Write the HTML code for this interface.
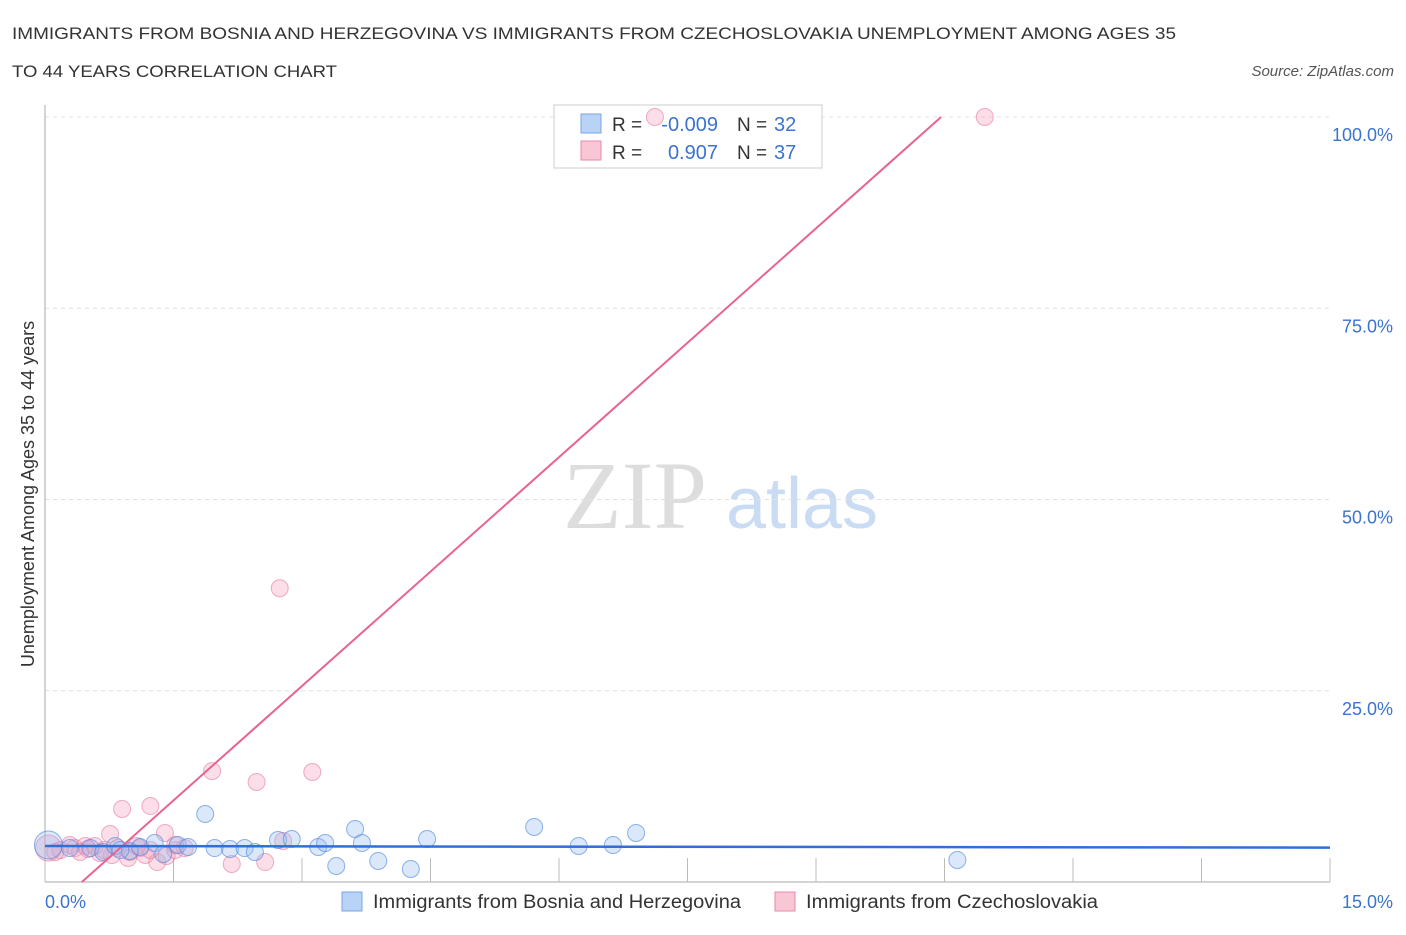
<!DOCTYPE html>
<html><head><meta charset="utf-8"><style>
body{margin:0;background:#fff;}
</style></head><body>
<svg id="c" width="1406" height="930" font-family="Liberation Sans, sans-serif">
<text x="12" y="39" font-size="17" fill="#333" textLength="1164" lengthAdjust="spacingAndGlyphs">IMMIGRANTS FROM BOSNIA AND HERZEGOVINA VS IMMIGRANTS FROM CZECHOSLOVAKIA UNEMPLOYMENT AMONG AGES 35</text>
<text x="12" y="77" font-size="17" fill="#333" textLength="325" lengthAdjust="spacingAndGlyphs">TO 44 YEARS CORRELATION CHART</text>
<text x="1394" y="76" font-size="15" fill="#555" font-style="italic" text-anchor="end">Source: ZipAtlas.com</text>
<text x="635" y="528" font-size="96" fill="#ddd" style="font-family:'Liberation Serif',serif" text-anchor="middle">ZIP</text>
<text x="802" y="528" font-size="72" fill="#c9dcf3" text-anchor="middle">atlas</text>
<text transform="translate(34,494) rotate(-90)" font-size="18" fill="#333" text-anchor="middle">Unemployment Among Ages 35 to 44 years</text>
<g id="grid"></g>
<g>
<rect x="554" y="105" width="268" height="63" fill="#fff" stroke="#ccc"/>
<rect x="581" y="114" width="20" height="19" fill="#b8d3f5" stroke="#7aa6e6"/>
<rect x="581" y="141" width="20" height="19" fill="#f9c6d6" stroke="#e88aa8"/>
<text x="612" y="131" font-size="19" fill="#333">R = </text><text x="718" y="131" font-size="20" fill="#3a73d0" text-anchor="end">-0.009</text>
<text x="737" y="131" font-size="19" fill="#333">N = </text><text x="774" y="131" font-size="20" fill="#3a73d0">32</text>
<text x="612" y="159" font-size="19" fill="#333">R = </text><text x="718" y="159" font-size="20" fill="#3a73d0" text-anchor="end">0.907</text>
<text x="737" y="159" font-size="19" fill="#333">N = </text><text x="774" y="159" font-size="20" fill="#3a73d0">37</text>
</g>
<g id="marks"></g>
<g>
<rect x="342" y="892" width="20" height="19" fill="#b8d3f5" stroke="#7aa6e6"/>
<text x="373" y="908" font-size="19" fill="#333" textLength="368" lengthAdjust="spacingAndGlyphs">Immigrants from Bosnia and Herzegovina</text>
<rect x="775" y="892" width="20" height="19" fill="#f9c6d6" stroke="#e88aa8"/>
<text x="806" y="908" font-size="19" fill="#333" textLength="292" lengthAdjust="spacingAndGlyphs">Immigrants from Czechoslovakia</text>
</g>
</svg>
<script>
const xTicks=[0,1.5,3,4.5,6,7.5,9,10.5,12,13.5,15];
const yTicks=[25,50,75,100];
const yTickLabels=["25.0%","50.0%","75.0%","100.0%"];
const blueX=[0.04,0.29,0.53,0.68,0.82,0.99,1.11,1.28,1.38,1.55,1.67,1.87,1.98,2.16,2.33,2.45,2.72,2.88,3.19,3.27,3.40,3.62,3.70,3.89,4.27,4.46,5.71,6.23,6.63,6.90,10.65,0.88];
const blueY=[4.84,4.44,4.44,3.92,4.71,4.05,4.58,5.10,3.66,4.84,4.58,8.89,4.44,4.31,4.44,3.92,5.49,5.62,4.58,5.10,2.09,6.93,5.10,2.75,1.70,5.62,7.19,4.71,4.84,6.41,2.88,4.18];
const pinkX=[0.04,0.18,0.35,0.47,0.58,0.76,0.78,0.90,0.97,1.11,1.17,1.23,1.31,1.40,1.42,1.52,1.63,1.95,2.18,2.47,2.57,2.74,2.78,3.12,7.12,10.97,0.64,0.99,0.50,0.29,0.12,1.23,0.69,0.41,0.85,1.07,1.52];
const pinkY=[4.44,4.18,4.44,4.71,4.71,6.27,3.53,9.54,3.14,4.44,3.53,9.93,2.61,6.41,3.40,4.18,4.44,14.5,2.35,13.07,2.61,38.4,5.36,14.38,100,100,3.79,3.92,4.31,4.84,3.92,4.18,4.18,3.92,4.44,4.71,4.84];
const blueTrend=[4.7,4.5];
const pinkSlope=9.97, pinkIntercept=-4.29;
const NS="http://www.w3.org/2000/svg";
const X=v=>45+v*(1330-45)/15, Y=v=>882-v*(882-117)/100;
function mk(p,t,a){const e=document.createElementNS(NS,t);for(const k in a)e.setAttribute(k,a[k]);p.appendChild(e);return e;}
const g=document.getElementById('grid'),m=document.getElementById('marks');
yTicks.forEach((t,i)=>{
 const l=mk(g,'line',{x1:45,x2:1330,y1:Y(t),y2:Y(t),stroke:'#e2e2e2','stroke-dasharray':'4,4'});
 
 
 const tx=mk(g,'text',{x:1393,y:Y(t)+24,'font-size':18,fill:'#3a73d0','text-anchor':'end'});tx.textContent=yTickLabels[i];
 
 
});
mk(g,'line',{x1:45,x2:45,y1:105,y2:882,stroke:'#aaa'});
mk(g,'line',{x1:45,x2:1330,y1:882,y2:882,stroke:'#aaa'});
xTicks.forEach(t=>{const l=mk(g,'line',{x1:X(t),x2:X(t),y1:858,y2:882,stroke:'#bbb'});
 
 });
let a=mk(g,'text',{x:45,y:908,'font-size':18,fill:'#3a73d0'});a.textContent=xTicks[0].toFixed(1)+"%";


a=mk(g,'text',{x:1393,y:908,'font-size':18,fill:'#3a73d0','text-anchor':'end'});a.textContent=xTicks[10].toFixed(1)+"%";


pinkX.forEach((x,i)=>{const c=mk(m,'circle',{cx:X(x),cy:Y(pinkY[i]),r:i==0?13:8.5,fill:'rgba(244,160,188,0.35)',stroke:'rgba(232,120,158,0.6)'});
 
 });
blueX.forEach((x,i)=>{const c=mk(m,'circle',{cx:X(x),cy:Y(blueY[i]),r:i==0?14:8.5,fill:'rgba(150,190,240,0.35)',stroke:'rgba(70,130,220,0.6)'});
 
 });
const x0=-pinkIntercept/pinkSlope,x1=(100-pinkIntercept)/pinkSlope;
let pl=mk(m,'line',{x1:X(x0),y1:Y(0),x2:X(x1),y2:Y(100),stroke:'#e8648f','stroke-width':2});


let bl=mk(m,'line',{x1:X(0),y1:Y(blueTrend[0]),x2:X(15),y2:Y(blueTrend[1]),stroke:'#2f6fd6','stroke-width':2.5});


</script>
</body></html>
